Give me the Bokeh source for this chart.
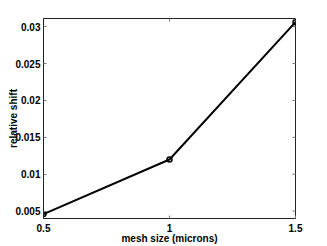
import math
from bokeh.plotting import figure
from bokeh.models import FixedTicker, Range1d
from bokeh.embed import file_html
from bokeh.resources import INLINE

mesh_size = [0.5, 1.0, 1.5]
relative_shift = [0.0046, 0.0120, 0.0306]
x_ticks = [0.5, 1.0, 1.5]
x_tick_labels = ["0.5", "1", "1.5"]
y_ticks = [0.005, 0.01, 0.015, 0.02, 0.025, 0.03]
y_tick_labels = ["0.005", "0.01", "0.015", "0.02", "0.025", "0.03"]

FONT = "Liberation Sans"
X0, X1 = 0.5, 1.5
Y0, Y1 = 0.0040, 0.0311

p = figure(width=327, height=246, output_backend="svg", toolbar_location=None,
           x_range=Range1d(X0, X1), y_range=Range1d(Y0, Y1),
           min_border_left=43, min_border_right=32, min_border_top=18, min_border_bottom=28,
           x_axis_label="mesh size (microns)", y_axis_label="relative shift")
p.background_fill_color = "white"
p.border_fill_color = "white"
p.outline_line_color = "#222222"
p.outline_line_width = 1
p.grid.visible = False

def style(ax, labels, ticks):
    ax.ticker = FixedTicker(ticks=ticks)
    ax.major_label_overrides = {t: l for t, l in zip(ticks, labels)}
    ax.major_tick_in = 3
    ax.major_tick_out = 0
    ax.minor_tick_in = 0
    ax.minor_tick_out = 0
    ax.axis_line_color = "#222222"
    ax.major_tick_line_color = "#777777"
    ax.major_label_text_font = FONT
    ax.major_label_text_font_style = "bold"
    ax.major_label_text_font_size = "10px"
    ax.major_label_text_color = "black"
    ax.axis_label_text_font = FONT
    ax.axis_label_text_font_style = "bold"
    ax.axis_label_text_font_size = "10px"
    ax.axis_label_text_color = "black"

style(p.xaxis[0], x_tick_labels, x_ticks)
style(p.yaxis[0], y_tick_labels, y_ticks)
p.xaxis[0].major_label_standoff = 5
p.xaxis[0].axis_label_standoff = -2
p.yaxis[0].major_label_standoff = 3
p.yaxis[0].axis_label_standoff = -7

# mirrored inward ticks on the right and top edges (clipped to the frame)
p.scatter([X1] * len(y_ticks), y_ticks, marker="dash", size=6, angle=0,
          line_color="#777777", line_width=1)
p.scatter(x_ticks, [Y1] * len(x_ticks), marker="dash", size=6, angle=math.pi / 2,
          line_color="#777777", line_width=1)

p.line(mesh_size, relative_shift, line_color="black", line_width=2)
p.scatter(mesh_size, relative_shift, marker="circle", size=5, fill_color=None,
          line_color="black", line_width=1.5)

open("out.html", "w").write(file_html(p, INLINE))
